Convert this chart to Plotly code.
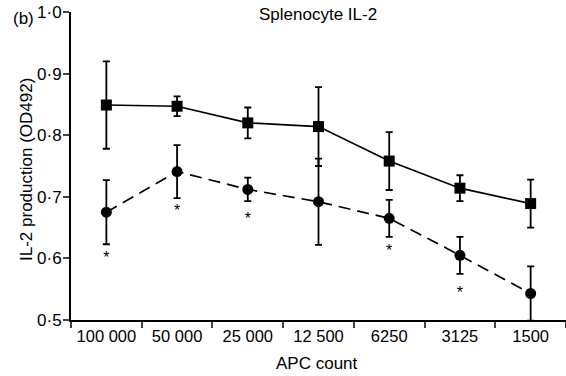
import plotly.graph_objects as go

categories = ["100 000", "50 000", "25 000", "12 500", "6250", "3125", "1500"]
control_mean = [0.849, 0.847, 0.820, 0.814, 0.758, 0.714, 0.689]
control_err = [0.071, 0.016, 0.025, 0.064, 0.047, 0.021, 0.039]
treated_mean = [0.675, 0.741, 0.712, 0.692, 0.665, 0.605, 0.543]
treated_err = [0.052, 0.043, 0.019, 0.070, 0.030, 0.030, 0.044]
sig_categories = ["100 000", "50 000", "25 000", "6250", "3125"]
sig_y = [0.599, 0.676, 0.662, 0.611, 0.543]
y_tickvals = [0.5, 0.6, 0.7, 0.8, 0.9, 1.0]
y_ticktext = ["0·5", "0·6", "0·7", "0·8", "0·9", "1·0"]

FONT = "Liberation Sans, Arial, sans-serif"

# plot area in pixels: x 71..566, y 12..320
PL, PR, PT, PB = 71, 566, 12, 320
def px_to_paper(px, py):
    return (px - PL) / (PR - PL), (PB - py) / (PB - PT)

fig = go.Figure()
fig.add_trace(go.Scatter(
    x=categories, y=control_mean, mode="lines+markers",
    line=dict(color="black", width=1.7),
    marker=dict(symbol="square", size=11, color="black"),
    error_y=dict(type="data", array=control_err, color="black", thickness=1.8, width=3.5),
    cliponaxis=False, showlegend=False))
fig.add_trace(go.Scatter(
    x=categories, y=treated_mean, mode="lines+markers",
    line=dict(color="black", width=1.7, dash="12px,7px"),
    marker=dict(symbol="circle", size=11, color="black"),
    error_y=dict(type="data", array=treated_err, color="black", thickness=1.8, width=3.5),
    showlegend=False))
fig.add_trace(go.Scatter(
    x=sig_categories, y=sig_y, mode="text", text=["*"] * len(sig_y),
    textfont=dict(family=FONT, size=16, color="black"), showlegend=False))

tx, ty = px_to_paper(318, 15)
bx, by = px_to_paper(11, 19)
ax_x, ax_y = px_to_paper(317, 363)
yx, yy = px_to_paper(26, 170)
fig.update_layout(
    width=566, height=376,
    margin=dict(l=PL, r=566 - PR, t=PT, b=376 - PB),
    paper_bgcolor="white", plot_bgcolor="white",
    font=dict(family=FONT, size=17, color="black"),
    annotations=[
        dict(text="Splenocyte IL-2", x=tx, y=ty, xref="paper", yref="paper",
             xanchor="center", yanchor="middle", showarrow=False, font=dict(size=17)),
        dict(text="(b)", x=bx, y=by, xref="paper", yref="paper",
             xanchor="left", yanchor="middle", showarrow=False, font=dict(size=17)),
        dict(text="APC count", x=ax_x, y=ax_y, xref="paper", yref="paper",
             xanchor="center", yanchor="middle", showarrow=False, font=dict(size=17)),
        dict(text="IL-2 production (OD492)", x=yx, y=yy, xref="paper", yref="paper",
             xanchor="center", yanchor="middle", textangle=-90, showarrow=False,
             font=dict(size=17)),
    ],
)

fig.update_xaxes(
    type="category", categoryorder="array", categoryarray=categories,
    tickson="boundaries", ticks="outside", ticklen=6, tickwidth=1.8,
    showline=True, linecolor="black", linewidth=1.8, showgrid=False,
    range=[-0.5, 6.5], tickfont=dict(size=16.5))
fig.update_yaxes(
    range=[0.5, 1.0], tickvals=y_tickvals, ticktext=y_ticktext,
    ticks="outside", ticklen=6, tickwidth=1.8, ticklabelstandoff=-2,
    showline=True, linecolor="black", linewidth=1.8, showgrid=False, zeroline=False,
    tickfont=dict(size=17))

fig.write_html("out.html")
